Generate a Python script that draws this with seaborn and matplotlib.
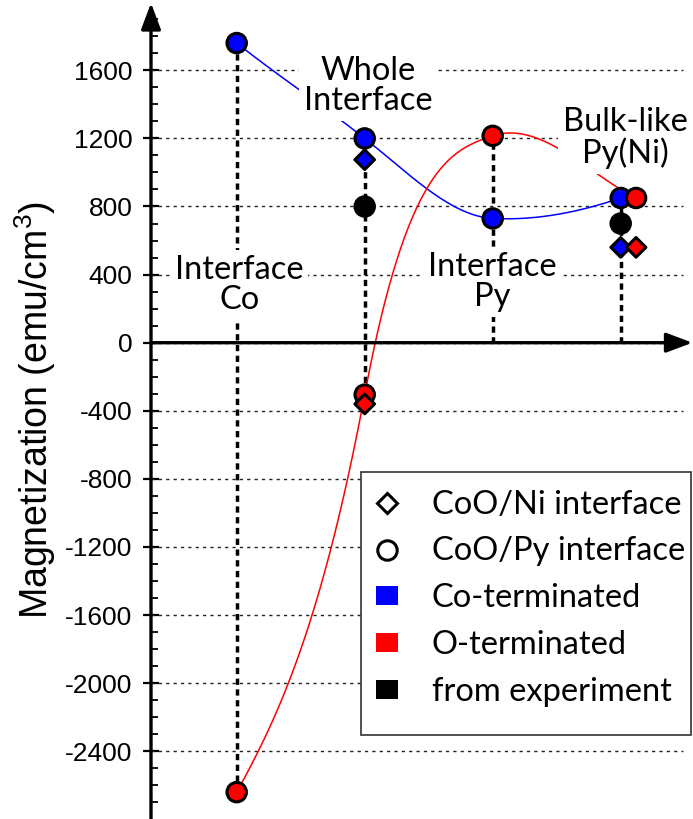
import numpy as np
import pandas as pd
import matplotlib
matplotlib.use("Agg")
import matplotlib.pyplot as plt
import seaborn as sns
from matplotlib.lines import Line2D
from matplotlib.patches import Patch, Rectangle

# ---------------- data ----------------
categories = ["Interface\nCo", "Whole\nInterface", "Interface\nPy", "Bulk-like\nPy(Ni)"]
py_co_terminated = [1760, 1200, 730, 850]        # CoO/Py interface, Co-terminated
py_o_terminated = [-2640, -305, 1215, 850]       # CoO/Py interface, O-terminated
ni_co_terminated = [np.nan, 1075, np.nan, 560]   # CoO/Ni interface, Co-terminated
ni_o_terminated = [np.nan, -360, np.nan, 560]    # CoO/Ni interface, O-terminated
experiment = [np.nan, 800, np.nan, 700]          # from experiment
y_ticks = [-2400, -2000, -1600, -1200, -800, -400, 0, 400, 800, 1200, 1600]
y_tick_labels = [str(v) for v in y_ticks]
legend_labels = ["CoO/Ni interface", "CoO/Py interface", "Co-terminated",
                 "O-terminated", "from experiment"]

# ---------------- style ----------------
o_dodge = [0, 0, 0, 0.12]               # horizontal shift of O-terminated markers
label_dx = [0.02, 0.03, 0.0, 0.04]      # label horizontal offsets
label_y = [339, 1508, 356, 1203]        # label vertical centres
blue_tangents = [-594, -590, -40, 256]  # curve smoothing tangents
red_tangents = [1360, 4000, 250, -375]
colors = {"Co-terminated": "#0000ff", "O-terminated": "#ff0000", "experiment": "#000000"}
TXT = ["Lato", "DejaVu Sans"]

sns.set_style("white")
plt.rcParams["font.family"] = ["Liberation Sans", "DejaVu Sans"]
plt.rcParams["mathtext.fontset"] = "custom"
plt.rcParams["mathtext.rm"] = "Liberation Sans"
plt.rcParams["axes.unicode_minus"] = False
for key in ["text.color", "axes.labelcolor", "xtick.color", "ytick.color",
            "xtick.labelcolor", "ytick.labelcolor"]:
    plt.rcParams[key] = "black"

W, H = 693, 819
fig = plt.figure(figsize=(W / 100, H / 100), dpi=100)
ax = fig.add_axes([151 / W, 0, 1 - 151 / W, 1])
px_per_val = 0.17025
ax.set_ylim(-(H - 342.7) / px_per_val, 342.7 / px_per_val)
ax.set_xlim((151 - 236.7) / 128, (W - 236.7) / 128)
for s in ax.spines.values():
    s.set_visible(False)

idx = np.arange(len(categories))

# data frames
rows = []
for i in idx:
    rows.append((i, py_co_terminated[i], "Co-terminated", "CoO/Py"))
for i in idx:
    rows.append((i, experiment[i], "experiment", "CoO/Py"))
for i in idx:
    rows.append((i + o_dodge[i], py_o_terminated[i], "O-terminated", "CoO/Py"))
for i in idx:
    rows.append((i, ni_co_terminated[i], "Co-terminated", "CoO/Ni"))
for i in idx:
    rows.append((i + o_dodge[i], ni_o_terminated[i], "O-terminated", "CoO/Ni"))
df = pd.DataFrame(rows, columns=["x", "value", "termination", "interface"]).dropna()

# grid lines
ax.hlines(y_ticks, 0, 0.9815, transform=ax.get_yaxis_transform(), colors="#222222",
          linewidth=1.0, linestyles=(0, (2.3, 3.0)), zorder=1)

# vertical dashed drop lines
all_vals = np.array([py_co_terminated, py_o_terminated, ni_co_terminated,
                     ni_o_terminated, experiment], dtype=float)
lows = np.minimum(0, np.nanmin(all_vals, axis=0))
highs = np.nanmax(all_vals, axis=0)
ax.vlines(idx, lows, highs, colors="black", linewidth=2.5,
          linestyles=(0, (1.8, 1.3)), zorder=2)


def hermite(xs, ys, ms, n=80):
    X, Y = [], []
    for i in range(len(xs) - 1):
        h = xs[i + 1] - xs[i]
        t = np.linspace(0, 1, n)
        h00 = 2 * t**3 - 3 * t**2 + 1
        h10 = t**3 - 2 * t**2 + t
        h01 = -2 * t**3 + 3 * t**2
        h11 = t**3 - t**2
        X.append(xs[i] + h * t)
        Y.append(h00 * ys[i] + h10 * h * ms[i] + h01 * ys[i + 1] + h11 * h * ms[i + 1])
    return np.concatenate(X), np.concatenate(Y)


bx, by = hermite(idx.astype(float), py_co_terminated, blue_tangents)
rx, ry = hermite(idx + np.array(o_dodge), py_o_terminated, red_tangents)
sns.lineplot(x=bx, y=by, sort=False, color=colors["Co-terminated"], linewidth=1.1,
             ax=ax, zorder=2.5, estimator=None)
sns.lineplot(x=rx, y=ry, sort=False, color=colors["O-terminated"], linewidth=1.1,
             ax=ax, zorder=2.5, estimator=None)

# category labels
for i in idx:
    ax.text(i + label_dx[i], label_y[i], categories[i], ha="center", va="center",
            fontsize=23.5, family=TXT, linespacing=1.0, zorder=3, color="black",
            bbox=dict(boxstyle="square,pad=0.15", fc="white", ec="none"))

# markers
circ = df[df["interface"] == "CoO/Py"]
dia = df[df["interface"] == "CoO/Ni"]
sns.scatterplot(data=circ, x="x", y="value", hue="termination", palette=colors,
                marker="o", s=196, edgecolor="black", linewidth=2.2, legend=False,
                ax=ax, zorder=4, clip_on=False)
sns.scatterplot(data=dia, x="x", y="value", hue="termination", palette=colors,
                marker="D", s=100, edgecolor="black", linewidth=2.2, legend=False,
                ax=ax, zorder=4.5, clip_on=False)

# axes with arrows
arrow = dict(arrowstyle="-|>,head_length=0.8,head_width=0.3", mutation_scale=20,
             lw=2.4, color="black", shrinkA=0, shrinkB=0)
ax.annotate("", xy=(0, 1 - 3 / H), xytext=(0, 0), xycoords="axes fraction",
            textcoords="axes fraction", arrowprops=arrow, annotation_clip=False, zorder=6)
ax.annotate("", xy=(0.999, 0), xytext=(0, 0), xycoords=ax.get_yaxis_transform(),
            textcoords=ax.get_yaxis_transform(), arrowprops=arrow,
            annotation_clip=False, zorder=6)

# ticks
ax.set_xticks([])
ax.set_yticks(y_ticks)
ax.set_yticklabels(y_tick_labels)
ax.set_yticks(np.arange(-2700, 2000, 100), minor=True)
ax.tick_params(axis="y", which="major", direction="inout", length=11, width=1.6,
               pad=8, labelsize=19, color="black", labelcolor="black", left=True)
ax.tick_params(axis="y", which="minor", direction="in", length=5, width=1.3,
               color="black", left=True)
ax.set_xlabel("")
ax.set_ylabel("")
fig.text(35 / W, 1 - 410 / H, "Magnetization (emu/cm$^3$)", rotation=90,
         ha="center", va="center", fontsize=27, color="black")

# legend
fr = Rectangle((360.7 / W, 1 - 735 / H), (691 - 360.7) / W, (735 - 472) / H,
               transform=fig.transFigure, fc="white", ec="#333333", lw=1.2,
               zorder=5, clip_on=False)
ax.add_patch(fr)
handles = [
    Line2D([], [], marker="D", ls="none", mfc="white", mec="black", mew=2.2, ms=10),
    Line2D([], [], marker="o", ls="none", mfc="white", mec="black", mew=2.2, ms=14),
    Patch(facecolor=colors["Co-terminated"], edgecolor="none"),
    Patch(facecolor=colors["O-terminated"], edgecolor="none"),
    Patch(facecolor=colors["experiment"], edgecolor="none"),
]
leg = ax.legend(handles, legend_labels, loc="upper left",
                bbox_to_anchor=(376 / W, 1 - 489.5 / H), bbox_transform=fig.transFigure,
                frameon=False, borderpad=0, borderaxespad=0, handlelength=0.675,
                handleheight=0.52, handletextpad=1.04, labelspacing=0.52,
                prop={"family": TXT, "size": 23.5})
for t in leg.get_texts():
    t.set_color("black")
leg.set_zorder(6)

fig.savefig("out.png", dpi=100)
